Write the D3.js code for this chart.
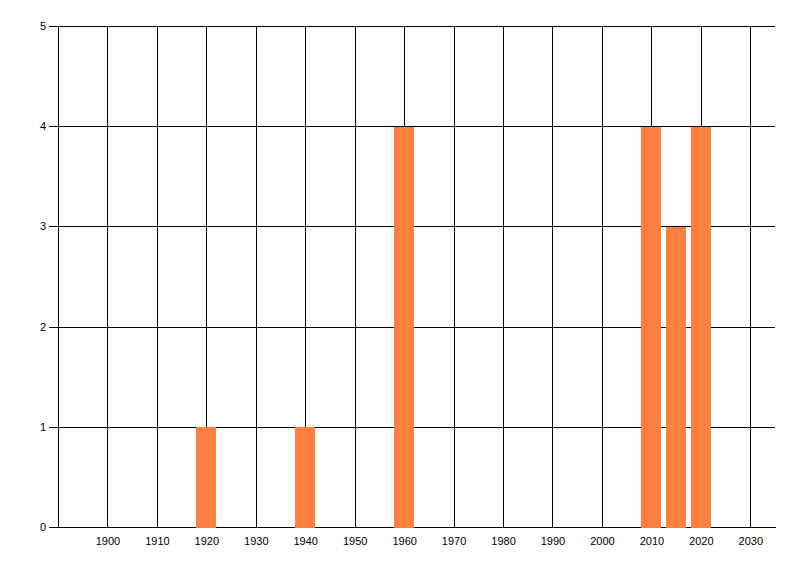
<!DOCTYPE html>
<html>
<head>
<meta charset="utf-8">
<script src="https://cdn.jsdelivr.net/npm/d3@7"></script>
<style>
  html, body { margin: 0; padding: 0; background: #fff; }
  svg { display: block; }
  text { font-family: "Liberation Sans", Arial, sans-serif; font-size: 11px; fill: #000; }
</style>
</head>
<body>
<svg id="chart" width="800" height="576"></svg>
<script>
const years = [1920, 1940, 1960, 2010, 2015, 2020];
const counts = [1, 1, 4, 4, 3, 4];
const xTicks = [1900, 1910, 1920, 1930, 1940, 1950, 1960, 1970, 1980, 1990, 2000, 2010, 2020, 2030];
const yTicks = [0, 1, 2, 3, 4, 5];

(function () {
const svg = d3.select("#chart");
const pLeft = 58, pRight = 775, pTop = 26, pBottom = 527;

const x = d3.scaleLinear().domain([1890, 2035]).range([pLeft, pRight]);
const y = d3.scaleLinear().domain([0, 5]).range([pBottom, pTop]);

// horizontal grid + y labels
const gy = svg.append("g")
  .attr("transform", `translate(${pRight},0)`)
  .call(d3.axisLeft(y).tickValues(yTicks).tickFormat(d3.format("d"))
    .tickSizeInner(pRight - 49).tickSizeOuter(0).tickPadding(3));
gy.select(".domain").remove();
gy.selectAll("line").attr("stroke", "#000").attr("shape-rendering", "crispEdges");

// vertical grid + x labels
const gx = svg.append("g")
  .attr("transform", `translate(0,${pBottom})`)
  .call(d3.axisBottom(x).tickValues(xTicks).tickFormat(d3.format("d"))
    .tickSizeInner(-(pBottom - pTop)).tickSizeOuter(0).tickPadding(10));
gx.select(".domain").attr("stroke", "#000").attr("shape-rendering", "crispEdges");
gx.selectAll("line").attr("stroke", "#000").attr("shape-rendering", "crispEdges");

// y axis line
svg.append("line")
  .attr("x1", pLeft + 0.5).attr("x2", pLeft + 0.5)
  .attr("y1", y(5) + 0.5).attr("y2", y(0) + 0.5)
  .attr("stroke", "#000").attr("shape-rendering", "crispEdges");

// bars
const data = years.map((yr, i) => ({ yr, v: counts[i] }));
svg.append("g").selectAll("rect").data(data).join("rect")
  .attr("x", d => x(d.yr - 2))
  .attr("width", d => x(d.yr + 2) - x(d.yr - 2))
  .attr("y", d => y(d.v) + 0.5)
  .attr("height", d => y(0) - y(d.v))
  .attr("fill", "#FF7F40")
  .attr("shape-rendering", "crispEdges");
})();
</script>
</body>
</html>
